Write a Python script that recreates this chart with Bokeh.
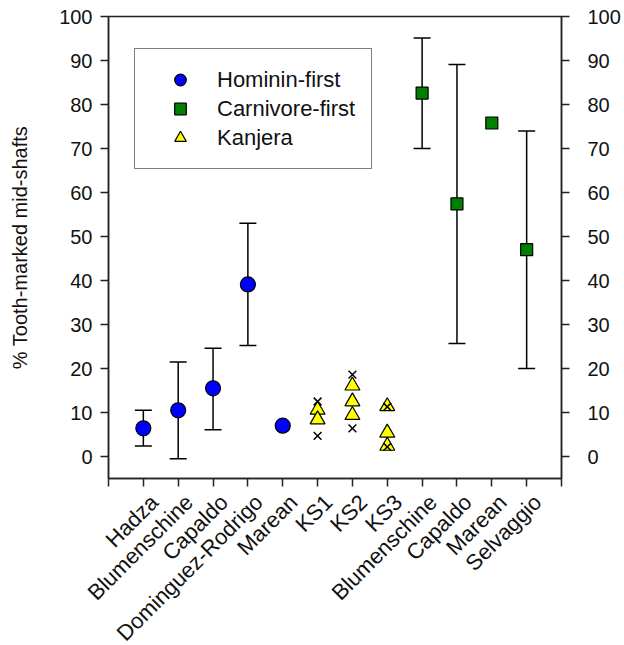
import math
from bokeh.plotting import figure
from bokeh.models import (ColumnDataSource, Whisker, TeeHead, Range1d, LinearAxis,
                          FixedTicker, Legend, LegendItem)
from bokeh.embed import file_html
from bokeh.resources import INLINE

# ---------------- data ----------------
categories = ["Hadza", "Blumenschine", "Capaldo", "Dominguez-Rodrigo", "Marean",
              "KS1", "KS2", "KS3",
              "Blumenschine", "Capaldo", "Marean", "Selvaggio"]

hominin_mean = [6.4, 10.5, 15.5, 39.1, 7.0]
hominin_upper = [10.5, 21.5, 24.6, 53.0, None]
hominin_lower = [2.4, -0.5, 6.1, 25.2, None]

kanjera_sites = ["KS1", "KS2", "KS3"]
kanjera_site = ["KS1", "KS1", "KS2", "KS2", "KS2", "KS3", "KS3", "KS3"]
kanjera_values = [10.6, 8.4, 16.1, 12.5, 9.4, 11.4, 5.4, 2.4]
kanjera_x_site = ["KS1", "KS1", "KS2", "KS2", "KS3", "KS3"]
kanjera_x_values = [12.5, 4.7, 18.6, 6.4, 11.3, 2.2]

carnivore_mean = [82.6, 57.4, 75.8, 47.0]
carnivore_upper = [95.1, 89.1, None, 74.0]
carnivore_lower = [70.0, 25.7, None, 20.0]

y_ticks = list(range(0, 101, 10))

# ---------------- positions ----------------
n_h = len(hominin_mean)
hom_x = [i + 1 for i in range(n_h)]
site_pos = {s: n_h + 1 + i for i, s in enumerate(kanjera_sites)}
kan_x = [site_pos[s] for s in kanjera_site]
kanx_x = [site_pos[s] for s in kanjera_x_site]
car_x = [n_h + len(kanjera_sites) + 1 + i for i in range(len(carnivore_mean))]

FONT = "Liberation Sans"
FS = "20px"
FS_BIG = "22px"
AX = "#222222"
FRAME_W = 453
X_MAX = len(categories) + 1
LABEL_SHIFT = 11 * X_MAX / FRAME_W   # rotated labels sit ~11px right of ticks

p = figure(frame_width=FRAME_W, frame_height=462,
           x_range=Range1d(0, X_MAX), y_range=Range1d(-5, 100),
           output_backend="svg", toolbar_location=None,
           min_border_left=108, min_border_top=16, min_border_right=62,
           min_border_bottom=166)
p.extra_x_ranges = {"labels": Range1d(-LABEL_SHIFT, X_MAX - LABEL_SHIFT)}
p.xgrid.visible = False
p.ygrid.visible = False
p.outline_line_color = AX
p.outline_line_width = 1.5
p.background_fill_color = "white"
p.border_fill_color = "white"

def err_source(xs, up, lo):
    d = dict(x=[], upper=[], lower=[])
    for x, u, l in zip(xs, up, lo):
        if u is not None:
            d["x"].append(x); d["upper"].append(u); d["lower"].append(l)
    return ColumnDataSource(d)

for xs, up, lo in [(hom_x, hominin_upper, hominin_lower),
                   (car_x, carnivore_upper, carnivore_lower)]:
    w = Whisker(source=err_source(xs, up, lo), base="x", upper="upper", lower="lower",
                dimension="height", line_color="black", line_width=1.5,
                upper_head=TeeHead(size=17, line_width=1.5, line_color="black"),
                lower_head=TeeHead(size=17, line_width=1.5, line_color="black"),
                level="underlay")
    p.add_layout(w)

r_h = p.scatter(hom_x, hominin_mean, marker="circle", size=15,
                fill_color="#0000FF", line_color="black", line_width=1.2)
r_c = p.scatter(car_x, carnivore_mean, marker="square", size=12,
                fill_color="#008000", line_color="black", line_width=1.2)
r_k = p.scatter(kan_x, kanjera_values, marker="triangle", size=15,
                fill_color="#FFFF00", line_color="black", line_width=1.2)
p.scatter(kanx_x, kanjera_x_values, marker="x", size=11,
          line_color="black", line_width=1.5)

# axes
p.yaxis.ticker = FixedTicker(ticks=y_ticks)
p.yaxis.axis_label = "% Tooth-marked mid-shafts"
right = LinearAxis(ticker=FixedTicker(ticks=y_ticks))
p.add_layout(right, "right")

for ax in [p.yaxis[0], right, p.xaxis[0]]:
    ax.axis_line_color = AX
    ax.axis_line_width = 1.5
    ax.major_tick_line_color = AX
    ax.major_tick_line_width = 1.5
    ax.major_tick_in = 0
    ax.major_tick_out = 8
    ax.minor_tick_line_color = None
    ax.major_label_text_font = FONT
    ax.major_label_text_font_size = FS
    ax.major_label_text_color = "#111111"
    ax.major_label_standoff = 8

right.major_label_standoff = 18

p.yaxis[0].axis_label_text_font = FONT
p.yaxis[0].axis_label_text_font_size = FS
p.yaxis[0].axis_label_text_font_style = "normal"
p.yaxis[0].axis_label_text_color = "#111111"
p.yaxis[0].axis_label_standoff = 25

# tick-only bottom axis (its labels are not drawn)
p.xaxis[0].ticker = FixedTicker(ticks=list(range(0, X_MAX + 1)))
p.xaxis[0].major_label_text_font_size = "1px"
p.xaxis[0].major_label_text_color = None
p.xaxis[0].major_label_text_alpha = 0
p.xaxis[0].major_label_standoff = 0

# label-only bottom axis (slightly shifted, like the reference)
lab_axis = LinearAxis(x_range_name="labels",
                      ticker=FixedTicker(ticks=list(range(1, len(categories) + 1))))
lab_axis.major_label_overrides = {i + 1: c for i, c in enumerate(categories)}
lab_axis.major_label_orientation = math.pi / 4
lab_axis.major_label_standoff = 12
lab_axis.major_label_text_font = FONT
lab_axis.major_label_text_font_size = FS_BIG
lab_axis.major_label_text_color = "#111111"
lab_axis.axis_line_color = None
lab_axis.major_tick_line_color = None
lab_axis.minor_tick_line_color = None
lab_axis.major_tick_in = 0
lab_axis.major_tick_out = 0
p.add_layout(lab_axis, "below")

legend = Legend(items=[LegendItem(label="Hominin-first", renderers=[r_h]),
                       LegendItem(label="Carnivore-first", renderers=[r_c]),
                       LegendItem(label="Kanjera", renderers=[r_k])],
                location=(26, 309), padding=16, spacing=0,
                glyph_width=58, glyph_height=29, label_height=20,
                label_standoff=8, label_text_font=FONT, label_text_font_size=FS_BIG,
                label_text_color="#111111",
                border_line_color="black", border_line_width=1.5,
                background_fill_color="white", background_fill_alpha=1.0)
p.add_layout(legend)

open("out.html", "w").write(file_html(p, INLINE))
